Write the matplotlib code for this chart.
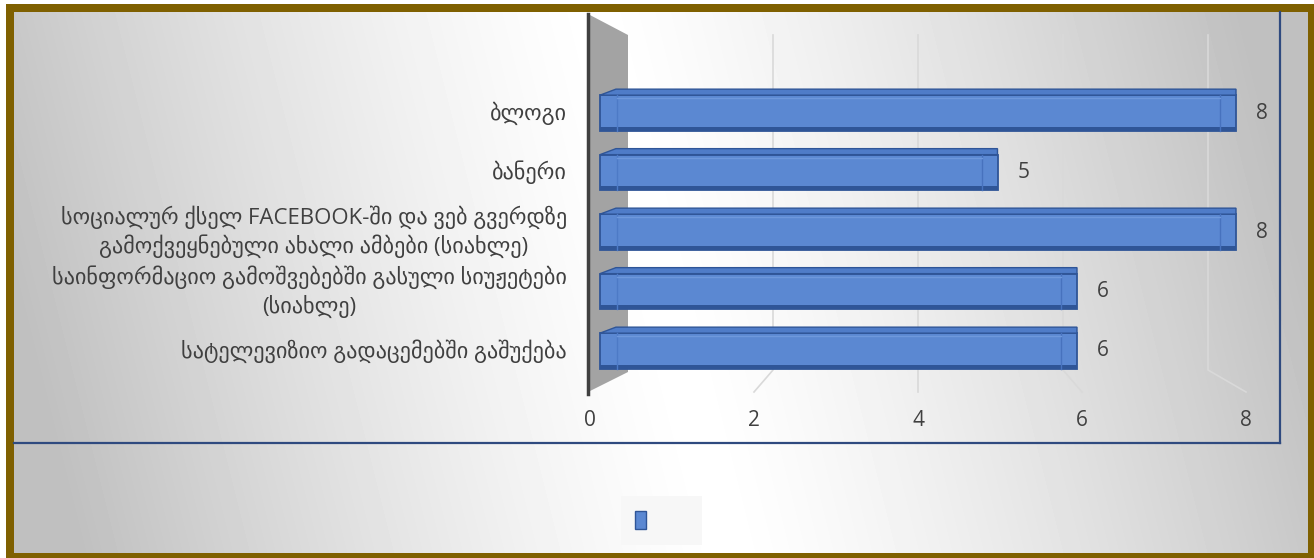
import numpy as np
import matplotlib
matplotlib.use("Agg")
import matplotlib.pyplot as plt
from matplotlib.patches import Rectangle, Polygon, Patch

plt.rcParams['font.family'] = ['Open Sans', 'DejaVu Sans']

# data
categories = ['ბლოგი',
              'ბანერი',
              'სოციალურ ქსელ FACEBOOK-ში და ვებ გვერდზე\nგამოქვეყნებული ახალი ამბები (სიახლე)',
              'საინფორმაციო გამოშვებებში გასული სიუჟეტები\n(სიახლე)',
              'სატელევიზიო გადაცემებში გაშუქება']
values = [8, 5, 8, 6, 6]
xticks = [0, 2, 4, 6, 8]

W, H = 1314, 558
fig = plt.figure(figsize=(W / 100, H / 100), dpi=100)
fig.patch.set_facecolor('white')

# background: brown frame + grey-white-grey gradient
bg = fig.add_axes([0, 0, 1, 1])
bg.add_patch(Rectangle((6, 4), W - 6, H - 4, fc='#7F6000', ec='none', zorder=1))
yy, xx = np.mgrid[12:553, 14:1308]
t = np.abs(xx - (660 + 0.25 * (yy - 279))) / 650.0
shade = 1 - 0.25 * np.clip(t, 0, 1) ** 1.3
bg.imshow(shade, cmap='gray', vmin=0, vmax=1, extent=(14, 1308, 553, 12),
          aspect='auto', interpolation='bilinear', zorder=2)
bg.set_xlim(0, W)
bg.set_ylim(H, 0)
bg.axis('off')

# main plot area (pixel layout of the 3D chart)
ax_l, ax_r, ax_t, ax_b = 14, 1280, 12, 443
x0_px, ppu = 600, 79.5          # bar scale
y0_px, ppc = 113, 59.5          # row spacing
ax = fig.add_axes([ax_l / W, 1 - ax_b / H, (ax_r - ax_l) / W, (ax_b - ax_t) / H])
ax.set_facecolor('none')
ax.set_xlim((ax_l - x0_px) / ppu, (ax_r - x0_px) / ppu)
ax.set_ylim((ax_b - y0_px) / ppc, (ax_t - y0_px) / ppc)
for s in ['top', 'left']:
    ax.spines[s].set_visible(False)
for s in ['bottom', 'right']:
    ax.spines[s].set_color('#2F4A7F')
    ax.spines[s].set_linewidth(1.6)
ax.set_xticks([])
ax.set_yticks([])

ux = lambda px: (px - x0_px) / ppu
uy = lambda py: (py - y0_px) / ppc
back = lambda v: ux(628 + 72.5 * v)
front = lambda v: ux(590 + 82 * v)

# perspective gridlines
for v in xticks[1:]:
    ax.plot([back(v), back(v), front(v)], [uy(35), uy(370), uy(392)],
            color='#D9D9D9', lw=1.2, zorder=1)

# side wall
ax.add_patch(Polygon([(ux(588), uy(14)), (ux(628), uy(35)), (ux(628), uy(372)),
                      (ux(588), uy(392))], closed=True, fc='#A3A3A3', ec='none', zorder=2))
ax.plot([ux(588), ux(588)], [uy(14), uy(394)], color='#404040', lw=2.5, zorder=3)

# bars (front face + top face + end caps)
pos = np.arange(len(values))
bh = 0.6
d = 6 / ppc
ax.barh(pos, values, height=bh, color='#5B88D2', edgecolor='#2F5597', lw=1.3, zorder=4)
ax.barh(pos + bh / 2 - 0.035, values, height=0.06, color='#2F5597', lw=0, zorder=5)
for p, v in zip(pos, values):
    top = p - bh / 2
    ax.add_patch(Polygon([(0, top), (0.2, top - d), (v, top - d), (v, top)], closed=True,
                         fc='#4F7CC8', ec='#2F5597', lw=1, zorder=4))
    ax.plot([v - 0.2, v - 0.2], [top, p + bh / 2], color='#4772BE', lw=1, zorder=5)
    ax.plot([0.22, 0.22], [top, p + bh / 2], color='#4D7AC6', lw=1, zorder=5)
    ax.plot([0.22, v - 0.2], [top + 0.05, top + 0.05], color='#6E98DC', lw=1, zorder=5)
    ax.text(v + 0.25, p, str(v), ha='left', va='center', fontsize=15, color='#404040')

# category labels
for p, c in zip(pos, categories):
    ax.text(ux(567), p, c, ha='right', va='center', multialignment='center',
            fontsize=16, color='#404040', linespacing=1.3)

# tick labels on the front plane
for v in xticks:
    ax.text(front(v), uy(420), str(v), ha='center', va='center', fontsize=15, color='#404040')

# legend (series without name)
leg = fig.legend(handles=[Patch(fc='#5B88D2', ec='#2F5597')], labels=['      '],
                 loc='center', bbox_to_anchor=(661.5 / W, 1 - 520.5 / H),
                 handlelength=0.6, handleheight=1.2, fontsize=13, fancybox=False,
                 borderpad=0.8)
leg.get_frame().set_facecolor('#F7F7F7')
leg.get_frame().set_edgecolor('none')
leg.get_frame().set_alpha(1)

fig.savefig('out.png', dpi=100)
